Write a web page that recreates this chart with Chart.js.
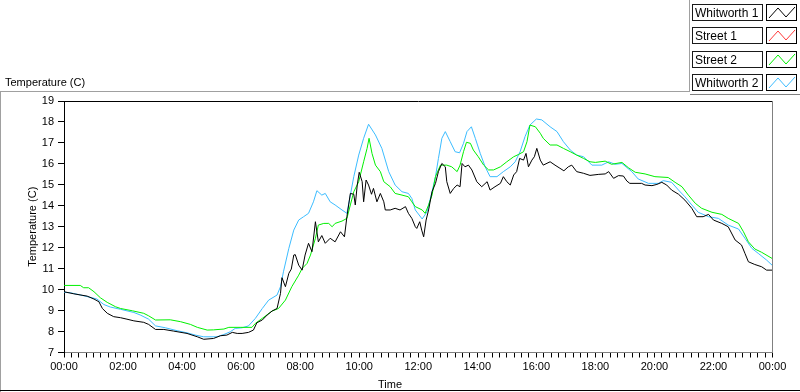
<!DOCTYPE html>
<html><head><meta charset="utf-8">
<script src="https://cdn.jsdelivr.net/npm/chart.js@4/dist/chart.umd.min.js"></script>
<style>html,body{margin:0;padding:0;background:#fff;overflow:hidden}</style>
</head><body>
<canvas id="c" width="800" height="392"></canvas>
<script>
// Series names and colours
const seriesNames = ['Whitworth 1', 'Street 1', 'Street 2', 'Whitworth 2'];
const seriesColors = ['#000000', '#ff3a3a', '#00f000', '#3cbcff'];

// Whitworth 1 (minutes after midnight, °C)
const whitworth1Min = [0,20,47,61,71,78,88,101,115,128,142,162,172,186,203,223,250,271,284,304,318,331,342,352,362,375,385,392,403,413,423,433,440,443,450,457,462,467,470,477,484,490,497,504,511,517,524,531,541,551,562,570,575,582,589,592,596,600,606,609,614,619,625,629,636,643,650,653,663,673,683,694,700,707,714,717,723,727,731,736,741,748,755,761,768,775,778,785,792,799,805,809,815,822,829,839,849,860,866,876,887,893,900,907,914,920,926,934,939,944,951,956,961,968,974,988,998,1008,1016,1025,1032,1042,1056,1069,1087,1100,1107,1117,1127,1137,1144,1150,1174,1181,1195,1205,1215,1225,1235,1249,1262,1276,1286,1299,1310,1320,1337,1350,1364,1377,1384,1391,1404,1418,1428,1439];
const whitworth1Temp = [9.90,9.80,9.69,9.55,9.42,9.10,8.87,8.71,8.66,8.59,8.51,8.44,8.34,8.10,8.10,8.02,7.91,7.75,7.63,7.67,7.80,7.83,7.96,7.91,7.91,7.96,8.07,8.42,8.55,8.79,8.98,9.10,9.82,10.57,10.14,10.78,10.98,11.65,11.67,11.17,10.93,11.65,12.21,11.81,13.24,12.28,12.58,12.21,12.45,12.28,12.76,12.52,13.48,14.59,14.55,14.04,14.99,15.60,15.15,14.19,15.23,14.99,14.55,14.83,14.19,14.59,14.19,13.80,13.80,13.88,13.80,13.96,13.64,13.40,13.00,12.92,13.24,12.84,12.52,13.32,13.80,14.67,15.07,15.63,16.02,15.86,15.15,14.59,14.83,14.99,14.91,16.02,15.86,15.94,15.71,15.15,14.91,15.15,14.75,14.91,15.07,15.39,15.15,14.99,15.47,15.63,16.26,16.18,16.50,15.86,16.18,16.34,16.74,16.18,15.94,16.10,15.94,15.79,15.67,15.86,15.94,15.63,15.55,15.45,15.50,15.52,15.63,15.31,15.44,15.42,15.18,15.07,15.07,14.99,14.96,15.02,15.12,14.99,14.75,14.55,14.27,13.88,13.48,13.48,13.59,13.32,13.16,13.00,12.37,12.13,11.73,11.33,11.20,11.09,10.93,10.93];

// Street 1 (no visible data)
const street1Min = [];
const street1Temp = [];

// Street 2
const street2Min = [0,33,40,50,61,74,88,105,115,139,162,172,186,216,237,257,271,291,304,325,335,358,382,389,403,423,436,450,463,477,484,494,501,511,517,528,538,545,551,565,575,582,589,599,609,616,620,626,633,643,650,663,673,687,700,707,714,728,734,741,748,755,765,778,788,799,805,812,818,826,832,842,853,863,873,887,900,914,924,934,941,947,958,968,974,988,1002,1015,1029,1042,1056,1069,1080,1100,1113,1134,1147,1161,1181,1201,1228,1242,1256,1269,1283,1296,1317,1337,1350,1371,1381,1391,1404,1418,1439];
const street2Temp = [10.20,10.20,10.09,10.09,9.90,9.61,9.39,9.18,9.10,8.99,8.87,8.75,8.55,8.56,8.47,8.34,8.20,8.07,8.08,8.12,8.20,8.20,8.20,8.39,8.63,8.98,9.10,9.50,10.14,10.69,11.01,11.25,11.65,12.45,13.08,13.16,13.16,13.0,13.16,13.27,13.40,14.04,14.67,15.15,16.10,16.74,17.22,16.50,15.94,15.63,15.15,14.91,14.59,14.51,14.43,14.19,13.96,13.80,13.64,14.04,14.51,15.39,15.94,15.94,15.86,15.63,15.94,16.58,17.03,16.98,16.66,16.34,15.94,15.71,15.71,15.86,16.10,16.34,16.45,16.58,17.06,17.85,17.77,17.46,17.22,16.90,16.90,16.74,16.58,16.42,16.26,16.10,16.07,16.13,15.98,16.07,15.82,15.60,15.52,15.39,15.35,15.12,14.91,14.51,14.12,13.88,13.69,13.59,13.40,13.16,12.76,12.28,11.94,11.78,11.49];

// Whitworth 2
const whitworth2Min = [0,13,34,54,67,81,94,115,142,155,172,186,206,230,250,267,284,311,325,338,348,362,375,389,403,416,433,440,446,457,467,477,487,497,507,514,524,531,541,551,565,575,582,589,599,609,619,633,646,660,673,687,700,707,714,728,738,748,755,761,768,775,785,795,804,812,819,828,836,846,856,866,880,893,907,917,927,937,947,960,971,988,1002,1015,1029,1042,1056,1073,1093,1107,1120,1134,1154,1167,1188,1208,1218,1235,1249,1262,1276,1289,1310,1330,1350,1371,1384,1398,1411,1428,1439];
const whitworth2Temp = [9.87,9.85,9.74,9.63,9.55,9.29,9.17,9.06,8.91,8.79,8.59,8.27,8.18,8.04,7.94,7.83,7.75,7.75,7.86,7.99,8.15,8.18,8.27,8.63,9.10,9.50,9.74,10.14,10.85,11.97,12.84,13.32,13.48,13.64,14.19,14.72,14.51,14.59,14.19,14.04,13.80,13.64,14.51,15.39,16.42,17.22,17.89,17.38,16.74,15.63,14.99,14.67,14.59,14.35,13.80,13.37,13.72,14.67,15.39,16.26,17.22,17.54,17.06,16.58,16.53,16.98,17.54,17.77,17.22,16.50,15.86,15.39,15.39,15.63,15.86,16.10,16.58,17.30,17.85,18.14,18.10,17.77,17.54,17.06,16.66,16.42,16.34,15.94,15.94,16.10,15.98,16.02,15.63,15.28,15.07,15.07,15.20,15.12,14.75,14.43,14.04,13.69,13.48,13.40,13.08,12.89,12.45,11.97,11.73,11.41,11.17];

// Axis settings
const xMinMinutes = 0, xMaxMinutes = 1440, xMinorStep = 15, xLabelStep = 120;
const yMin = 7, yMax = 19, yStep = 1;
const chartTitle = 'Temperature (C)';
const xTitle = 'Time';
const yTitle = 'Temperature (C)';

const pairs = (xs, ys) => xs.map((x, i) => ({x: x, y: ys[i]}));
const fmtTime = v => { const h = Math.floor(v / 60) % 24, m = v % 60; return String(h).padStart(2, '0') + ':' + String(m).padStart(2, '0'); };

const FONT = "'Liberation Sans', Arial, sans-serif";

const framePlugin = {
  id: 'frame',
  afterDraw(chart) {
    const ctx = chart.ctx, a = chart.chartArea;
    ctx.save();
    ctx.lineWidth = 1;
    // panel frame
    ctx.strokeStyle = '#a0a0a0';
    ctx.beginPath();
    ctx.moveTo(0, 91.5); ctx.lineTo(690, 91.5);
    ctx.moveTo(0.5, 91); ctx.lineTo(0.5, 392);
    ctx.moveTo(689.5, 0); ctx.lineTo(689.5, 91);
    ctx.stroke();
    ctx.strokeStyle = '#808080';
    ctx.beginPath(); ctx.moveTo(690, 94.5); ctx.lineTo(800, 94.5); ctx.stroke();
    ctx.strokeStyle = '#000';
    ctx.beginPath(); ctx.moveTo(0, 390.5); ctx.lineTo(800, 390.5); ctx.stroke();
    // plot frame: top black, right grey
    ctx.strokeStyle = '#000';
    ctx.beginPath(); ctx.moveTo(Math.floor(a.left), Math.floor(a.top) + 0.5); ctx.lineTo(Math.ceil(a.right), Math.floor(a.top) + 0.5); ctx.stroke();
    ctx.strokeStyle = '#808080';
    ctx.beginPath(); ctx.moveTo(Math.floor(a.right) + 0.5, a.top); ctx.lineTo(Math.floor(a.right) + 0.5, a.bottom); ctx.stroke();
    // texts
    ctx.fillStyle = '#000';
    ctx.font = '11px ' + FONT;
    ctx.textAlign = 'left'; ctx.textBaseline = 'alphabetic';
    ctx.fillText(chartTitle, 5, 86);
    ctx.textAlign = 'center';
    ctx.fillText(xTitle, 390, 388);
    ctx.save();
    ctx.translate(36, (a.top + a.bottom) / 2);
    ctx.rotate(-Math.PI / 2);
    ctx.fillText(yTitle, 0, 0);
    ctx.restore();
    // legend
    ctx.font = '12px ' + FONT;
    ctx.textAlign = 'left';
    chart.data.datasets.forEach((ds, i) => {
      const y0 = 4 + Math.round(i * 23.4);
      ctx.fillStyle = '#fff';
      ctx.fillRect(693, y0, 70, 17);
      ctx.fillRect(767, y0, 30, 17);
      ctx.strokeStyle = '#1a1a1a';
      ctx.strokeRect(692.5, y0 + 0.5, 70, 16);
      ctx.strokeStyle = '#000';
      ctx.strokeRect(766.5, y0 + 0.5, 30, 16);
      ctx.fillStyle = '#000';
      ctx.fillText(ds.label, 695, y0 + 13);
      ctx.strokeStyle = ds.borderColor;
      ctx.beginPath();
      ctx.moveTo(769, y0 + 14); ctx.lineTo(778, y0 + 4); ctx.lineTo(786, y0 + 13); ctx.lineTo(795, y0 + 3);
      ctx.stroke();
    });
    ctx.restore();
  }
};

const seriesData = [
  pairs(whitworth1Min, whitworth1Temp),
  pairs(street1Min, street1Temp),
  pairs(street2Min, street2Temp),
  pairs(whitworth2Min, whitworth2Temp)
];
// draw order: Street 2 and Whitworth 2 below Whitworth 1
const drawOrder = [0, 3, 1, 2];

new Chart(document.getElementById('c'), {
  type: 'line',
  data: {
    datasets: seriesNames.map((name, i) => ({
      label: name,
      data: seriesData[i],
      borderColor: seriesColors[i],
      backgroundColor: seriesColors[i],
      borderWidth: 1,
      pointRadius: 0,
      tension: 0,
      fill: false,
      order: drawOrder[i]
    }))
  },
  options: {
    responsive: false,
    animation: false,
    devicePixelRatio: 1,
    layout: { padding: { left: 0, top: 101, right: 27.5, bottom: 0 } },
    plugins: { legend: { display: false }, tooltip: { enabled: false }, title: { display: false } },
    scales: {
      x: {
        type: 'linear', min: xMinMinutes, max: xMaxMinutes,
        afterFit: s => { s.height = 39.5; },
        ticks: {
          stepSize: xMinorStep, autoSkip: false, maxRotation: 0, minRotation: 0,
          color: '#000', padding: 3, font: { family: FONT, size: 11 },
          callback: v => (v % xLabelStep === 0 ? fmtTime(v) : '')
        },
        grid: { drawOnChartArea: false, drawTicks: true, tickLength: 5, tickColor: '#000' },
        border: { display: true, color: '#808080', width: 1 }
      },
      y: {
        min: yMin, max: yMax,
        afterFit: s => { s.width = 64; },
        ticks: { stepSize: yStep, color: '#000', padding: 4, font: { family: FONT, size: 11 } },
        grid: { drawOnChartArea: false, drawTicks: true, tickLength: 6, tickColor: '#000' },
        border: { display: true, color: '#000', width: 1 }
      }
    }
  },
  plugins: [framePlugin]
});
</script>
</body></html>
